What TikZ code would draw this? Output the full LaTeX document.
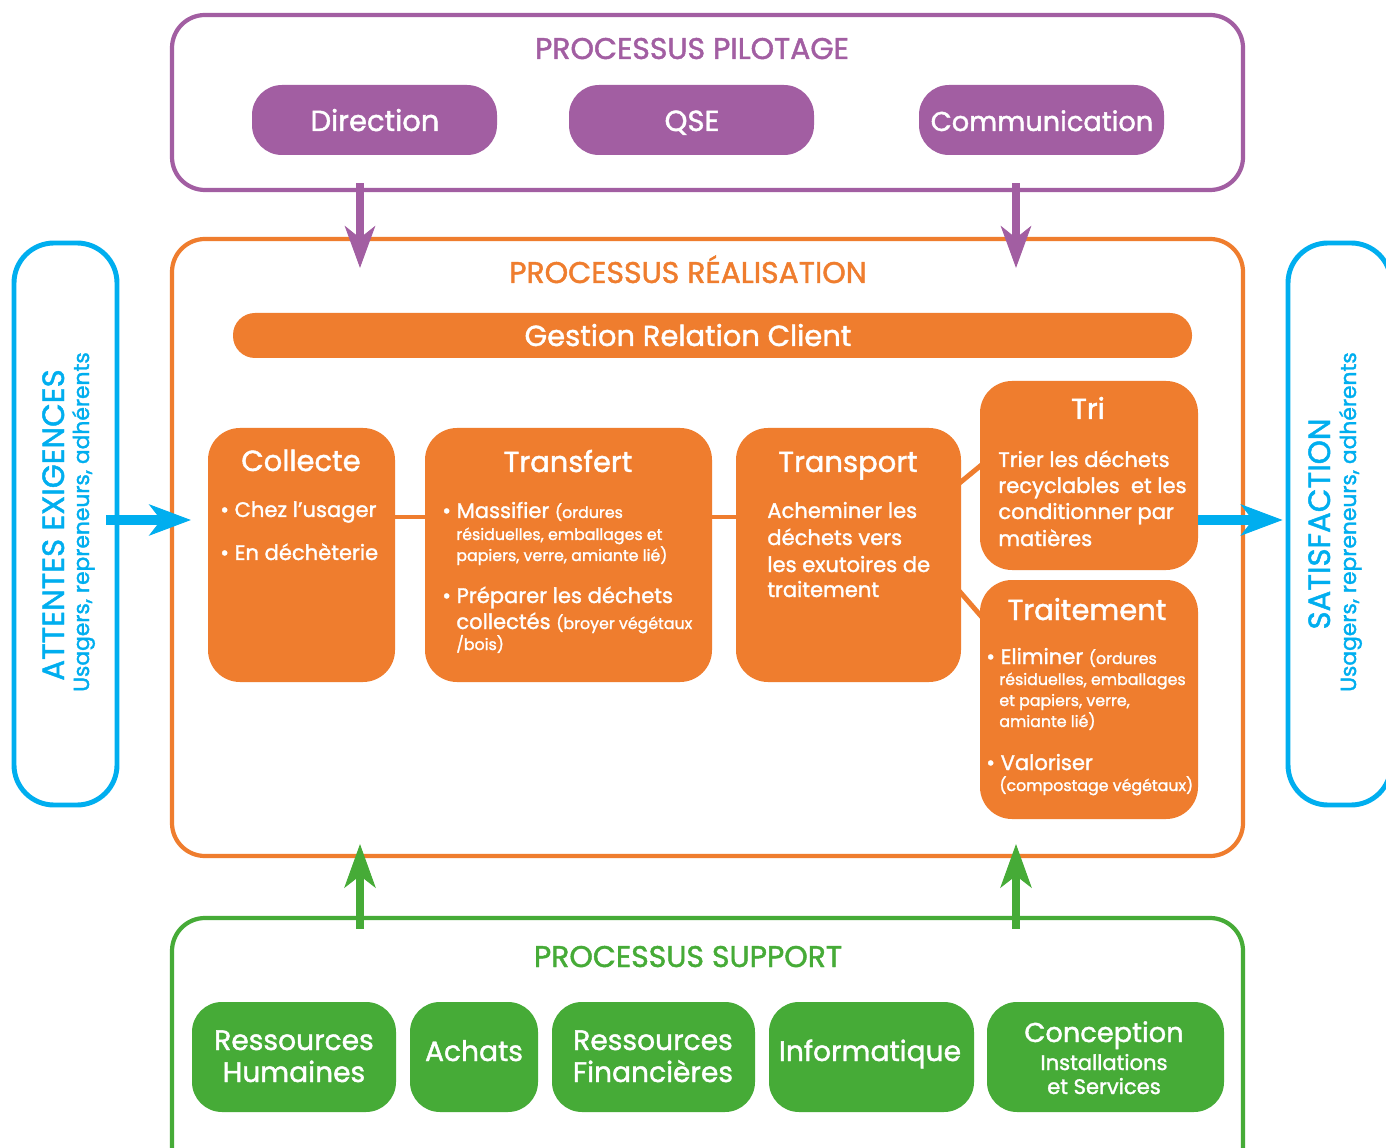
\documentclass[tikz,border=0pt]{standalone}
\usepackage{fontspec}
\setmainfont{Poppins}[FakeBold=1.5]
\usetikzlibrary{arrows.meta,calc}
\definecolor{pur}{HTML}{A25EA2}
\definecolor{ora}{HTML}{EF7D2E}
\definecolor{blu}{HTML}{00AEEF}
\definecolor{gre}{HTML}{46AB37}
\newcommand\pxu{0.02cm}
\newcommand\fs[2]{\fontsize{#1}{#2}\selectfont}
\begin{document}
\begin{tikzpicture}[x=0.02cm,y=-0.02cm,
  sz/.style 2 args={minimum width=#1*\pxu, minimum height=#2*\pxu, inner sep=0pt},
  frame/.style={draw=#1, line width=2.4pt, rounded corners=0.66cm, rectangle},
  sideframe/.style={draw=blu, line width=2.8pt, rounded corners=0.8cm, rectangle},
  pill/.style={fill=pur, rounded corners=0.6cm, rectangle},
  obox/.style={fill=ora, rounded corners=0.64cm, rectangle},
  gbox/.style={fill=gre, rounded corners=0.6cm, rectangle},
  head/.style={text=#1, font=\fs{17}{20}, anchor=base, inner sep=0pt},
  wtitle/.style={text=white, font=\fs{16.5}{20}, anchor=base, inner sep=0pt},
  gtitle/.style={text=white, font=\fs{16}{20}, anchor=base, inner sep=0pt},
  wsub/.style={text=white, font=\fs{12}{14}, anchor=base, inner sep=0pt},
  body/.style={text=white, font=\fs{12}{15}, anchor=base west, inner sep=0pt},
  sbody/.style={text=white, font=\fs{9}{11}, anchor=base west, inner sep=0pt},
  vbig/.style={text=blu, font=\fs{17.5}{20}, anchor=base, inner sep=0pt, rotate=90},
  vsmall/.style={text=blu, font=\fs{12.4}{15}, anchor=base, inner sep=0pt, rotate=90},
  oconn/.style={draw=ora, line width=2.8pt},
  parrow/.style={draw=pur, line width=4.5pt, -{Stealth[length=24pt,width=17.5pt,inset=7pt,line width=0.5pt]}},
  garrow/.style={draw=gre, line width=4.5pt, -{Stealth[length=25pt,width=18pt,inset=7pt,line width=0.5pt]}},
  barrow/.style={draw=blu, line width=5.7pt, -{Stealth[length=24pt,width=18pt,inset=7pt,line width=0.5pt]}},
]
\useasboundingbox (0,0) rectangle (1386,1148);
\clip (0,0) rectangle (1386,1148);
\fill[white] (0,0) rectangle (1386,1148);

% frames
\node[frame=pur, sz={1071}{175}] (pilot) at (707.5,102.5) {};
\node[frame=ora, sz={1071}{617}] (real) at (707.5,547.5) {};
\node[frame=gre, sz={1071}{282}] (support) at (707.5,1059) {};
\node[sideframe, sz={103}{562}] (attentes) at (65.5,524) {};
\node[sideframe, sz={103}{562}] (satisf) at (1339.5,524) {};

% pilotage
\node[head=pur] (hpilot) at (692,59) {PROCESSUS PILOTAGE};
\node[pill, sz={245}{70}] (direction) at (374.5,120) {};
\node[pill, sz={245}{70}] (qse) at (691.5,120) {};
\node[pill, sz={245}{70}] (comm) at (1041.5,120) {};
\node[wtitle] (tdirection) at (375,131) {Direction};
\node[wtitle] (tqse) at (692,131) {QSE};
\node[wtitle, font=\fs{15.5}{19}] (tcomm) at (1042,131) {Communication};

% realisation
\node[head=ora] (hreal) at (688,283) {PROCESSUS RÉALISATION};
\node[obox, rounded corners=0.44cm, sz={959}{45}] (grc) at (712.5,335.5) {};
\node[wtitle] (tgrc) at (688,346) {Gestion Relation Client};

\node[obox, sz={187}{254}] (collecte) at (301.5,555) {};
\node[obox, sz={287}{254}] (transfert) at (568.5,555) {};
\node[obox, sz={225}{254}] (transport) at (848.5,555) {};
\node[obox, sz={218}{189}] (tri) at (1089,475.5) {};
\node[obox, sz={218}{239}] (traitement) at (1089,699.5) {};

\coordinate (yc) at (0,517);
\coordinate (yd1) at (0,484);
\coordinate (yd2) at (0,464);
\coordinate (ye1) at (0,590);
\coordinate (ye2) at (0,618);
\draw[oconn] (collecte.east |- yc) -- (transfert.west |- yc);
\draw[oconn] (transfert.east |- yc) -- (transport.west |- yc);
\draw[oconn] ($(transport.east |- yd1)+(-3,0)$) -- ($(tri.west |- yd2)+(3,0)$);
\draw[oconn] ($(transport.east |- ye1)+(-3,0)$) -- ($(traitement.west |- ye2)+(3,0)$);

\node[wtitle] (tcollecte) at (301,471) {Collecte};
\node[body] (c1) at (220,517) {• Chez l’usager};
\node[body] (c2) at (220,560) {• En déchèterie};

\node[wtitle] (ttransfert) at (568,472) {Transfert};
\node[body] (t1) at (442,518) {• Massifier {\fs{9}{11}(ordures}};
\node[sbody] (t2) at (456,540) {résiduelles, emballages et};
\node[sbody] (t3) at (456,561) {papiers, verre, amiante lié)};
\node[body] (t4) at (442,603) {• Préparer les déchets};
\node[body] (t5) at (456,629) {collectés {\fs{9}{11}(broyer végétaux}};
\node[sbody] (t6) at (456,650) {/bois)};

\node[wtitle] (ttransport) at (848,472) {Transport};
\node[body] (p1) at (767,518) {Acheminer les};
\node[body] (p2) at (767,545) {déchets vers};
\node[body] (p3) at (767,572) {les exutoires de};
\node[body] (p4) at (767,597) {traitement};

\node[wtitle] (ttri) at (1088,419) {Tri};
\node[body] (r1) at (998,467) {Trier les déchets};
\node[body] (r2) at (998,493) {recyclables \ et les};
\node[body] (r3) at (998,519) {conditionner par};
\node[body] (r4) at (998,546) {matières};

\node[wtitle] (ttraitement) at (1087,620) {Traitement};
\node[body] (e1) at (986,664) {• Eliminer {\fs{9}{11}(ordures}};
\node[sbody] (e2) at (999,685) {résiduelles, emballages};
\node[sbody] (e3) at (999,706) {et papiers, verre,};
\node[sbody] (e4) at (999,727) {amiante lié)};
\node[body] (e5) at (986,770) {• Valoriser};
\node[sbody] (e6) at (999,791) {(compostage végétaux)};

% side texts
\node[vbig] (tatt) at (64,525) {ATTENTES EXIGENCES};
\node[vsmall] (tattu) at (89,522) {Usagers, repreneurs, adhérents};
\node[vbig] (tsat) at (1330,524) {SATISFACTION};
\node[vsmall] (tsatu) at (1356,522) {Usagers, repreneurs, adhérents};

% support
\node[head=gre] (hsupport) at (688,967) {PROCESSUS SUPPORT};
\node[gbox, sz={204}{110}] (rh) at (294,1057) {};
\node[gbox, sz={128}{110}] (achats) at (474,1057) {};
\node[gbox, sz={203}{110}] (rf) at (653.5,1057) {};
\node[gbox, sz={205}{110}] (info) at (871.5,1057) {};
\node[gbox, sz={237}{110}] (conc) at (1105.5,1057) {};
\node[gtitle] (trh1) at (294,1050) {Ressources};
\node[gtitle] (trh2) at (294,1082) {Humaines};
\node[gtitle] (tachats) at (474,1061) {Achats};
\node[gtitle] (trf1) at (653,1050) {Ressources};
\node[gtitle] (trf2) at (653,1082) {Financières};
\node[gtitle] (tinfo) at (870,1061) {Informatique};
\node[gtitle, font=\fs{15.5}{19}] (tconc1) at (1104,1042) {Conception};
\node[wsub] (tconc2) at (1104,1070) {Installations};
\node[wsub] (tconc3) at (1104,1094) {et Services};

% arrows
\coordinate (ax1) at (360,0);
\coordinate (ax2) at (1016,0);
\coordinate (yb) at (0,520);
\draw[parrow] ($(ax1 |- pilot.south)+(0,-9)$) -- ($(ax1 |- real.north)+(0,31)$);
\draw[parrow] ($(ax2 |- pilot.south)+(0,-9)$) -- ($(ax2 |- real.north)+(0,31)$);
\draw[garrow] ($(ax1 |- support.north)+(0,13)$) -- ($(ax1 |- real.south)+(0,-14)$);
\draw[garrow] ($(ax2 |- support.north)+(0,13)$) -- ($(ax2 |- real.south)+(0,-14)$);
\draw[barrow] ($(attentes.east |- yb)+(-13,0)$) -- ($(real.west |- yb)+(21,0)$);
\draw[barrow] (tri.east |- yb) -- ($(satisf.west |- yb)+(-3,0)$);
\end{tikzpicture}
\end{document}
